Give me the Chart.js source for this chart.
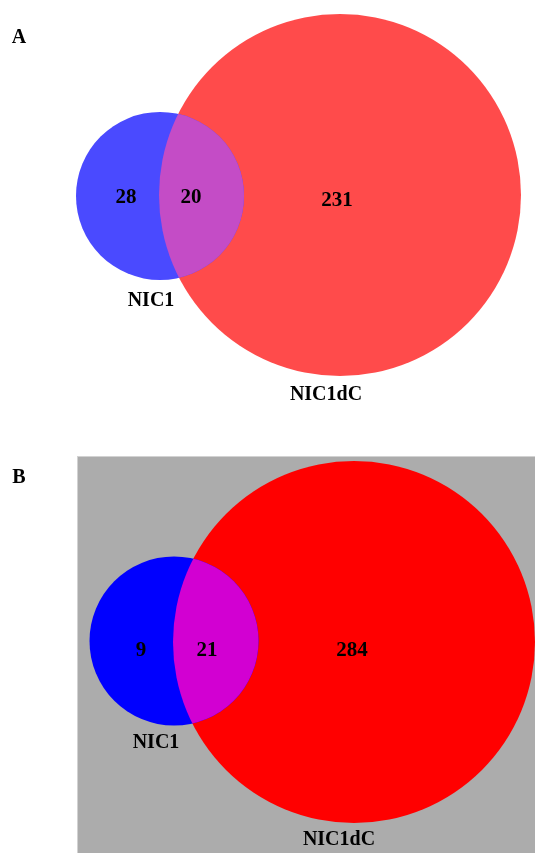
<!DOCTYPE html>
<html>
<head>
<meta charset="utf-8">
<title>NIC1 / NIC1dC Venn</title>
<script src="https://cdn.jsdelivr.net/npm/chart.js@4/dist/chart.umd.min.js"></script>
<style>
  body { margin: 0; background: #fff; }
  canvas { display: block; }
</style>
</head>
<body>
<canvas id="vennA" width="535" height="430"></canvas>
<canvas id="vennB" width="535" height="423"></canvas>
<script>
// set names and region counts: [only NIC1, shared, only NIC1dC]
const setNames = ['NIC1', 'NIC1dC'];
const countsA = [28, 20, 231];
const countsB = [9, 21, 284];
const panelTags = ['A', 'B'];

// layout of each panel (units = canvas pixels, y going down)
const layouts = [
    {
        height: 430,
        circles: [{ x: 160, y: 196, r: 84 }, { x: 340, y: 195, r: 181 }],
        countPos: [[126, 198], [191, 198], [337, 201]],
        namePos: [[151, 301], [326, 395]],
        tagPos: [19, 38],
        colors: ['#4a4aff', '#ff4b4b', '#c44cc6'],
        plotBox: null
    },
    {
        height: 423,
        circles: [{ x: 174, y: 211, r: 84.5 }, { x: 354, y: 212, r: 181 }],
        countPos: [[141, 221], [207, 221], [352, 221]],
        namePos: [[156, 313], [339, 410]],
        tagPos: [19, 48],
        colors: ['#0000ff', '#ff0000', '#d200d2'],
        plotBox: { x0: 77, y0: 26, x1: 540, y1: 430, fill: '#acacac', edge: '#d2d2d2' }
    }
];

const FONT = '"Liberation Serif", "Times New Roman", serif';

function drawVenn(canvasId, counts, tag, layout) {
    const datasets = setNames.map((name, i) => ({
        label: name,
        data: [{ x: layout.circles[i].x, y: layout.circles[i].y, r: layout.circles[i].r }],
        backgroundColor: layout.colors[i],
        borderWidth: 0,
        hoverRadius: 0,
        clip: false
    }));

    // grey plot box behind the circles (panel B only)
    const boxPlugin = {
        id: 'plotBox',
        beforeDatasetsDraw(chart) {
            const b = layout.plotBox;
            if (!b) return;
            const sx = chart.scales.x, sy = chart.scales.y;
            const x0 = sx.getPixelForValue(b.x0), x1 = sx.getPixelForValue(b.x1);
            const y0 = sy.getPixelForValue(b.y0), y1 = sy.getPixelForValue(b.y1);
            const ctx = chart.ctx;
            ctx.save();
            ctx.fillStyle = b.fill;
            ctx.fillRect(x0, y0, x1 - x0, y1 - y0);
            ctx.strokeStyle = b.edge;
            ctx.lineWidth = 1;
            ctx.strokeRect(x0 + 0.5, y0 + 0.5, x1 - x0, y1 - y0);
            ctx.restore();
        }
    };

    // overlap lens, counts and names
    const vennPlugin = {
        id: 'venn',
        afterDatasetsDraw(chart) {
            const ctx = chart.ctx;
            const p0 = chart.getDatasetMeta(0).data[0];
            const p1 = chart.getDatasetMeta(1).data[0];
            ctx.save();
            ctx.beginPath();
            ctx.arc(p0.x, p0.y, p0.options.radius, 0, Math.PI * 2);
            ctx.clip();
            ctx.beginPath();
            ctx.arc(p1.x, p1.y, p1.options.radius, 0, Math.PI * 2);
            ctx.fillStyle = layout.colors[2];
            ctx.fill();
            ctx.restore();

            const sx = chart.scales.x, sy = chart.scales.y;
            ctx.save();
            ctx.fillStyle = '#000';
            ctx.textAlign = 'center';
            ctx.textBaseline = 'middle';
            ctx.font = 'bold 21px ' + FONT;
            counts.forEach((c, i) => {
                const [x, y] = layout.countPos[i];
                ctx.fillText(String(c), sx.getPixelForValue(x), sy.getPixelForValue(y));
            });
            ctx.font = 'bold 20px ' + FONT;
            setNames.forEach((n, i) => {
                const [x, y] = layout.namePos[i];
                ctx.fillText(n, sx.getPixelForValue(x), sy.getPixelForValue(y));
            });
            ctx.fillText(tag, sx.getPixelForValue(layout.tagPos[0]), sy.getPixelForValue(layout.tagPos[1]));
            ctx.restore();
        }
    };

    return new Chart(document.getElementById(canvasId).getContext('2d'), {
        type: 'bubble',
        data: { datasets: datasets },
        options: {
            responsive: false,
            animation: false,
            events: [],
            layout: { padding: 0, autoPadding: false },
            scales: {
                x: { type: 'linear', min: 0, max: 535, display: false },
                y: { type: 'linear', min: 0, max: layout.height, reverse: true, display: false }
            },
            plugins: {
                legend: { display: false },
                tooltip: { enabled: false }
            }
        },
        plugins: [boxPlugin, vennPlugin]
    });
}

drawVenn('vennA', countsA, panelTags[0], layouts[0]);
drawVenn('vennB', countsB, panelTags[1], layouts[1]);
</script>
</body>
</html>
